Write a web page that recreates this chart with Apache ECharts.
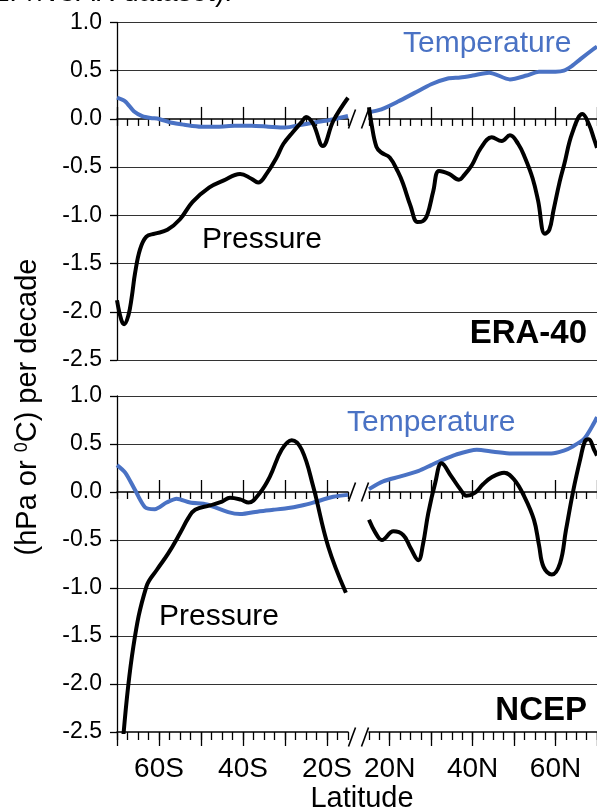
<!DOCTYPE html>
<html><head><meta charset="utf-8">
<script src="https://cdn.jsdelivr.net/npm/echarts@6/dist/echarts.min.js"></script>
<style>html,body{margin:0;padding:0;background:#fff}#c{width:597px;height:808px}</style>
</head><body><div id="c"></div>
<script>
// ---------- data (latitude in degrees: negative = south) ----------
const eraTempS = [[-70,0.22],[-68,0.18],[-66,0.08],[-64,0.03],[-62,0.01],[-60,0.0],[-57,-0.04],[-54,-0.06],[-50,-0.08],[-46,-0.08],[-42,-0.07],[-38,-0.07],[-34,-0.08],[-30,-0.09],[-26,-0.06],[-22,-0.03],[-18,0.0],[-15,0.03]];
const eraTempN = [[15,0.07],[18,0.10],[22,0.18],[26,0.27],[30,0.36],[34,0.42],[37,0.43],[40,0.45],[44,0.48],[49,0.41],[53,0.45],[56,0.49],[60,0.49],[62,0.50],[64,0.55],[66,0.62],[69,0.72],[70,0.75]];
const eraPresS = [[-70,-1.88],[-69,-2.08],[-68.3,-2.13],[-67.3,-2.04],[-66.5,-1.85],[-65.7,-1.60],[-64.5,-1.35],[-63,-1.22],[-61,-1.19],[-58,-1.15],[-55,-1.04],[-52,-0.86],[-48,-0.71],[-44.7,-0.64],[-40.7,-0.57],[-38,-0.62],[-36.4,-0.66],[-34.4,-0.57],[-32,-0.40],[-30.4,-0.26],[-28,-0.13],[-26,-0.03],[-25,0.02],[-23.3,-0.05],[-21,-0.28],[-18.5,-0.02],[-15,0.22]];
const eraPresN = [[15,0.12],[15.6,-0.05],[16.8,-0.29],[18,-0.35],[20,-0.40],[22,-0.55],[23.2,-0.67],[25,-0.90],[26.7,-1.07],[28,-1.06],[29.1,-0.99],[30.5,-0.75],[31.9,-0.54],[34.3,-0.57],[36.7,-0.63],[38,-0.58],[39.8,-0.48],[42,-0.30],[44.6,-0.19],[47,-0.23],[49,-0.17],[51,-0.26],[52.6,-0.40],[54.5,-0.62],[55.8,-0.85],[57.4,-1.19],[58.5,-1.15],[59.5,-0.95],[61,-0.65],[62.1,-0.47],[64,-0.15],[66.5,0.05],[68,-0.05],[69.3,-0.21],[70,-0.30]];

const ncepTempS = [[-70,0.28],[-68,0.20],[-65.7,0.02],[-63.3,-0.16],[-61,-0.18],[-58.2,-0.11],[-55.8,-0.07],[-52.6,-0.11],[-48.6,-0.13],[-43.5,-0.21],[-40.7,-0.23],[-36,-0.20],[-32.8,-0.185],[-29.6,-0.17],[-26,-0.14],[-23.3,-0.11],[-18.5,-0.05],[-15,-0.03]];
const ncepTempN = [[15,0.03],[18.4,0.11],[22.4,0.16],[27,0.22],[30,0.28],[32,0.32],[36,0.39],[41,0.44],[45,0.42],[49.4,0.40],[54,0.40],[59,0.40],[62,0.43],[64,0.47],[67,0.56],[69.3,0.72],[70,0.78]];
const ncepPresS = [[-68.5,-2.55],[-66.1,-1.61],[-63,-0.985],[-60.5,-0.81],[-57.8,-0.64],[-55,-0.43],[-53,-0.27],[-51.4,-0.185],[-47.9,-0.14],[-45,-0.10],[-43.1,-0.06],[-40.5,-0.08],[-38.7,-0.11],[-36,-0.01],[-33.6,0.16],[-30.8,0.44],[-28.4,0.54],[-26,0.44],[-23.3,0.06],[-19.7,-0.57],[-15.5,-1.05]];
const ncepPresN = [[15,-0.29],[16.5,-0.42],[18.1,-0.50],[20.9,-0.41],[23.3,-0.45],[25,-0.58],[26.9,-0.71],[28,-0.55],[29.3,-0.22],[31,0.10],[32.5,0.30],[34.9,0.16],[37,0.03],[38.5,-0.04],[40.5,-0.01],[42.5,0.08],[44.5,0.15],[47.6,0.20],[50,0.13],[52.5,-0.05],[54.8,-0.29],[56,-0.55],[57.1,-0.78],[59.1,-0.86],[61.1,-0.74],[62.5,-0.40],[64.3,0.02],[66,0.35],[67.1,0.53],[68,0.55],[69.3,0.44],[70,0.38]];

// ---------- axes ----------
const yTickValues = [-2.5,-2.0,-1.5,-1.0,-0.5,0.0,0.5,1.0];
const southRange = [-70,-15];
const northRange = [15,70];
const southMajor = [-70,-60,-50,-40,-30,-20];
const northMajor = [20,30,40,50,60,70];
const southLabelValues = [-60,-40,-20];
const southLabels = ['60S','40S','20S'];
const northLabelValues = [20,40,60];
const northLabels = ['20N','40N','60N'];
const minorStep = 2.5;
function steps(a,b){const r=[];for(let v=a;v<=b+1e-9;v+=minorStep)r.push(+v.toFixed(2));return r;}
const southMinor = steps(southRange[0],southRange[1]);
const northMinor = steps(northRange[0],northRange[1]);

const FONT = '"Liberation Sans", Arial, Helvetica, sans-serif';
const BLUE = '#4a72c4';
const GRIDC = '#333';

const L = 117, LW = 231, R0 = 369, RW = 231;
const panels = [{top:22.5,height:337.5},{top:396,height:336}];

const chart = echarts.init(document.getElementById('c'), null, {renderer:'canvas'});

const grids = [], xAxes = [], yAxes = [], series = [];
panels.forEach((p,pi)=>{
  const g0 = grids.length;
  grids.push({left:L, top:p.top, width:490, height:p.height});
  grids.push({left:L, top:p.top, width:LW, height:p.height});
  grids.push({left:R0, top:p.top, width:RW, height:p.height});
  xAxes.push({type:'value', gridIndex:g0, min:0, max:1, show:false});
  const splitColors = yTickValues.map(v => (v===0 || (pi===1 && v===-2.5)) ? 'rgba(0,0,0,0)' : GRIDC);
  yAxes.push({type:'value', gridIndex:g0, min:-2.5, max:1, interval:0.5,
    axisLine:{show:true, onZero:false, lineStyle:{color:'#000', width:1.3}},
    axisTick:{show:true, length:7, lineStyle:{color:'#000', width:1.3}},
    axisLabel:{fontFamily:FONT, fontSize:23, color:'#000', margin:15, formatter:v=>v.toFixed(1)},
    splitLine:{show:true, lineStyle:{color:splitColors, width:1.2}}
  });
  const yBase = yAxes.length;
  yAxes.push({type:'value', gridIndex:g0+1, min:-2.5, max:1, show:false});
  yAxes.push({type:'value', gridIndex:g0+2, min:-2.5, max:1, show:false});
  const segs = [{gi:g0+1, yi:yBase, range:southRange, minor:southMinor, major:southMajor, lv:southLabelValues, lt:southLabels},
                {gi:g0+2, yi:yBase+1, range:northRange, minor:northMinor, major:northMajor, lv:northLabelValues, lt:northLabels}];
  segs.forEach(s=>{
    const minorIdx = xAxes.length;
    xAxes.push({type:'value', gridIndex:s.gi, min:s.range[0], max:s.range[1],
      axisLine:{show:true, onZero:true, onZeroAxisIndex:s.yi, lineStyle:{color:'#000', width:1.5}},
      axisTick:{show:true, customValues:s.minor, length:7, lineStyle:{color:'#000', width:1.3}},
      axisLabel:{show:false}, splitLine:{show:false}});
    xAxes.push({type:'value', gridIndex:s.gi, min:s.range[0], max:s.range[1],
      axisLine:{show:false, onZero:true, onZeroAxisIndex:s.yi},
      axisTick:{show:true, customValues:s.major, length:12, lineStyle:{color:'#000', width:1.3}},
      axisLabel:{show:false}, splitLine:{show:false}});
    if (pi===1) {
      xAxes.push({type:'value', gridIndex:s.gi, min:s.range[0], max:s.range[1], position:'bottom',
        axisLine:{show:true, onZero:false, lineStyle:{color:'#000', width:1.5}},
        axisTick:{show:true, customValues:s.minor, length:8, lineStyle:{color:'#000', width:1.3}},
        axisLabel:{show:false}, splitLine:{show:false}});
      xAxes.push({type:'value', gridIndex:s.gi, min:s.range[0], max:s.range[1], position:'bottom',
        axisLine:{show:false, onZero:false},
        axisTick:{show:true, customValues:s.major, length:14, lineStyle:{color:'#000', width:1.3}},
        axisLabel:{show:true, customValues:s.lv, margin:23, fontFamily:FONT, fontSize:28, color:'#000',
          formatter:v=>s.lt[s.lv.indexOf(v)]},
        splitLine:{show:false}});
    }
    s.xi = minorIdx;
  });
  const sets = pi===0 ? [[eraTempS,eraPresS],[eraTempN,eraPresN]] : [[ncepTempS,ncepPresS],[ncepTempN,ncepPresN]];
  segs.forEach((s,si)=>{
    series.push({type:'line', xAxisIndex:s.xi, yAxisIndex:s.yi, data:sets[si][0], showSymbol:false, smooth:0.25,
      lineStyle:{color:BLUE, width:4}, itemStyle:{color:BLUE}, silent:true, clip:true, z:3});
    series.push({type:'line', xAxisIndex:s.xi, yAxisIndex:s.yi, data:sets[si][1], showSymbol:false, smooth:0.4,
      lineStyle:{color:'#000', width:4}, itemStyle:{color:'#000'}, silent:true, clip:true, z:4});
  });
});

function txt(x,y,text,opt){return Object.assign({type:'text', x:x, y:y, z:50, style:Object.assign({text:text, fontFamily:FONT, fontSize:29, fill:'#000', align:'left', verticalAlign:'middle'}, opt||{})});}

const graphics = [
  txt(232,-7,'NCEP/NCAR dataset).',{align:'right', fontSize:28}),
  txt(403,44,'Temperature',{fill:BLUE, fontSize:30}),
  txt(202,240,'Pressure',{fontSize:30}),
  txt(587,334,'ERA-40',{align:'right', fontSize:33, fontWeight:'bold'}),
  txt(347,423,'Temperature',{fill:BLUE, fontSize:30}),
  txt(159,617,'Pressure',{fontSize:30}),
  txt(587,711,'NCEP',{align:'right', fontSize:33, fontWeight:'bold'}),
  txt(362,799,'Latitude',{align:'center'}),
  {type:'text', x:28, y:407, rotation:Math.PI/2, z:50, style:{text:'(hPa or {s|0}C) per decade', fontFamily:FONT, fontSize:29, fill:'#000', align:'center', verticalAlign:'middle',
     rich:{s:{fontFamily:FONT, fontSize:18, fill:'#000', verticalAlign:'top', lineHeight:29}}}}
];

chart.setOption({animation:false, backgroundColor:'#fff', grid:grids, xAxis:xAxes, yAxis:yAxes, series:series, graphic:graphics});

// break marks
const slashes = [];
function slash(x,y){slashes.push({type:'line', z:60, shape:{x1:x-3.5,y1:y+9.5,x2:x+3.5,y2:y-9.5}, style:{stroke:'#000', lineWidth:1.6}});}
[[1,2,0,0],[4,5,0,0],[4,5,-2.5,5]].forEach(([gl,gr,val,off])=>{
  const a = chart.convertToPixel({gridIndex:gl},[southRange[1],val]);
  const b = chart.convertToPixel({gridIndex:gr},[northRange[0],val]);
  slash(a[0]+4, a[1]+off);
  slash(b[0]-4, b[1]+off);
});
chart.setOption({graphic:graphics.concat(slashes)});
</script></body></html>
